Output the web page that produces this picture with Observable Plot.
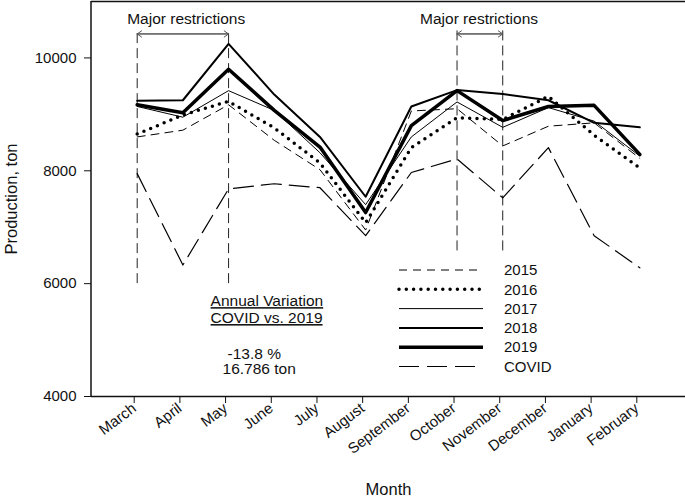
<!DOCTYPE html>
<html><head><meta charset="utf-8">
<script src="https://cdn.jsdelivr.net/npm/d3@7"></script>
<script src="https://cdn.jsdelivr.net/npm/@observablehq/plot@0.6"></script>
<style>
body{margin:0;background:#fff;font-family:"Liberation Sans",Arial,sans-serif;}
#wrap{position:relative;width:685px;height:504px;}
#legend{position:absolute;left:395px;top:258px;}
</style></head><body><div id="wrap"></div>
<script>
const months = ["March","April","May","June","July","August","September","October","November","December","January","February"];
const y2015 = [8600, 8720, 9170, 8540, 8020, 6950, 9060, 9100, 8440, 8790, 8850, 8220];
const y2016 = [8650, 8990, 9230, 8760, 8140, 7080, 8410, 8940, 8910, 9320, 8630, 8050];
const y2017 = [9140, 8950, 9420, 9070, 8320, 7400, 8600, 9220, 8770, 9120, 8880, 8260];
const y2018 = [9240, 9250, 10250, 9350, 8600, 7540, 9140, 9430, 9360, 9250, 8850, 8770];
const y2019 = [9170, 9030, 9800, 9070, 8420, 7260, 8800, 9420, 8890, 9140, 9160, 8290];
const covid = [7950, 6330, 7680, 7770, 7700, 6850, 7970, 8210, 7520, 8410, 6850, 6280];
const yTicks = [4000, 6000, 8000, 10000];

const seriesNames = ["2015", "2016", "2017", "2018", "2019", "COVID"];
const seriesValues = [y2015, y2016, y2017, y2018, y2019, covid];
const seriesStyle = [
  {strokeWidth: 1, strokeDasharray: "8,6"},
  {strokeWidth: 3.5, strokeDasharray: "0,7.3", strokeLinecap: "round"},
  {strokeWidth: 1},
  {strokeWidth: 2},
  {strokeWidth: 3.5},
  {strokeWidth: 1.2, strokeDasharray: "20,8"}
];

const restrictions = [
  {from: "March", to: "May", label: "Major restrictions", bottom: 6000},
  {from: "October", to: "November", label: "Major restrictions", bottom: 6580}
];
const restrictionTop = 10510, arrowLevel = 10425, labelLevel = 10690;
const variationLines = ["Annual Variation", "COVID vs. 2019"];
const variationLevels = [5690, 5390];
const variationNumbers = ["-13.8 %", "16.786 ton"];
const numberLevels = [4760, 4480];

const rows = (vals) => months.map((m, i) => ({month: m, value: vals[i]}));
const vlines = restrictions.flatMap(r => [{month: r.from, bottom: r.bottom}, {month: r.to, bottom: r.bottom}]);

const leftLine = (index, scales, values, dims) => {
  const l = document.createElementNS("http://www.w3.org/2000/svg", "line");
  l.setAttribute("x1", dims.marginLeft); l.setAttribute("x2", dims.marginLeft);
  l.setAttribute("y1", dims.marginTop); l.setAttribute("y2", dims.height - dims.marginBottom);
  l.setAttribute("stroke", "#111"); l.setAttribute("stroke-width", 1.5);
  return l;
};

const plot = Plot.plot({
  width: 685, height: 504,
  marginLeft: 91, marginRight: 0, marginTop: 1, marginBottom: 108,
  style: {fontFamily: "Liberation Sans, Arial, sans-serif", fontSize: "15px", color: "#111", background: "#fff"},
  x: {type: "point", domain: months, padding: 1, round: false},
  y: {domain: [4000, 11000]},
  marks: [
    Plot.ruleY([4000, 11000], {stroke: "#111", strokeWidth: 1.5}),
    leftLine,
    Plot.axisX({tickRotate: -37, tickSize: 6, tickPadding: 3, dx: -3, dy: 1, label: "Month", labelAnchor: "center", labelOffset: 98, labelArrow: false}),
    Plot.axisY({ticks: yTicks, tickSize: 7, tickPadding: 8, tickFormat: d => String(d), label: "Production, ton", labelAnchor: "center", labelOffset: 86, labelArrow: false}),
    Plot.ruleX(vlines, {x: "month", y1: "bottom", y2: restrictionTop, stroke: "#222", strokeWidth: 1, strokeDasharray: "10,5"}),
    Plot.arrow(restrictions, {x1: "from", x2: "to", y1: arrowLevel, y2: arrowLevel, stroke: "#555", strokeWidth: 1, headLength: 8, headAngle: 70}),
    Plot.arrow(restrictions, {x1: "to", x2: "from", y1: arrowLevel, y2: arrowLevel, stroke: "#555", strokeWidth: 1, headLength: 8, headAngle: 70}),
    Plot.text(restrictions.slice(0, 1), {x: "from", y: labelLevel, text: "label", dx: 49, fill: "#111", fontSize: 15.5}),
    Plot.text(restrictions.slice(1), {x: "from", y: labelLevel, text: "label", dx: 22, fill: "#111", fontSize: 15.5}),
    ...seriesValues.map((vals, i) => Plot.line(rows(vals), {x: "month", y: "value", stroke: "#000", ...seriesStyle[i]})),
    Plot.text(variationLines, {x: () => "May", y: (d, i) => variationLevels[i], text: d => d, textAnchor: "start", dx: -18, fill: "#111", fontSize: 15.5}),
    Plot.text(variationNumbers, {x: () => "May", y: (d, i) => numberLevels[i], text: d => d, textAnchor: "start", dx: -1, fill: "#111", fontSize: 15.5})
  ]
});

d3.select(plot).selectAll("text").filter(function() { return variationLines.includes(this.textContent); })
  .style("text-decoration", "underline");
d3.select(plot).selectAll("text").filter(function() { return this.textContent === "16.786 ton"; })
  .attr("dx", "-5");
d3.select(plot).selectAll('[aria-label="x-axis label"], [aria-label="y-axis label"]').attr("font-size", "16.5px").style("font-size", "16.5px");

const wrap = document.getElementById("wrap");
wrap.appendChild(plot);

// legend
const lg = d3.create("svg").attr("id", "legend").attr("width", 200).attr("height", 120)
  .style("font-family", "Liberation Sans, Arial, sans-serif").style("font-size", "15px");
seriesNames.forEach((name, i) => {
  const yy = 12 + i * 19.3;
  const s = seriesStyle[i];
  lg.append("line").attr("x1", 4).attr("x2", 88).attr("y1", yy).attr("y2", yy)
    .attr("stroke", "#000").attr("stroke-width", s.strokeWidth)
    .attr("stroke-dasharray", s.strokeDasharray || null)
    .attr("stroke-linecap", s.strokeLinecap || null);
  lg.append("text").attr("x", 109).attr("y", yy).attr("dy", "0.35em").attr("fill", "#111").text(name);
});
wrap.appendChild(lg.node());
</script></body></html>
